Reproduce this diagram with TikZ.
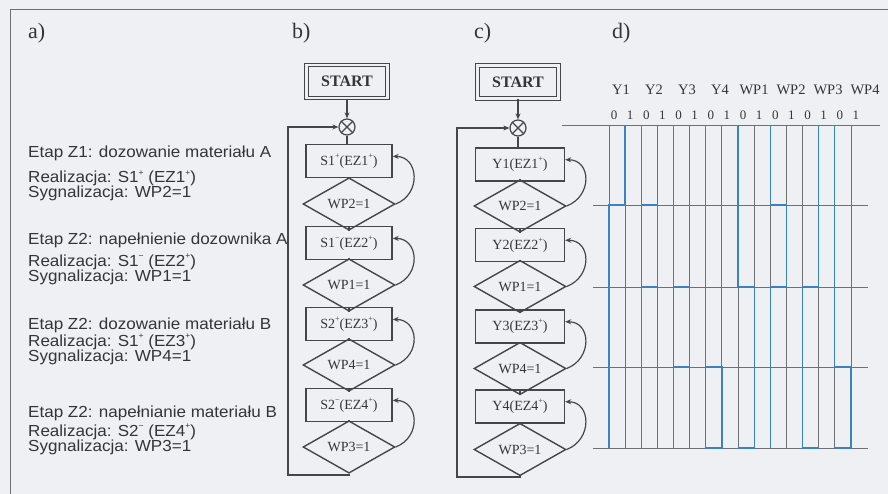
\documentclass[tikz,border=0pt]{standalone}
\usepackage{fontspec}
\setmainfont{Liberation Serif}
\setsansfont{Liberation Sans}
\newfontfamily\descfont[FakeStretch=1.065]{Liberation Sans}
\usetikzlibrary{shapes.geometric,arrows.meta}
\definecolor{paper}{HTML}{EEF0F3}
\definecolor{ink}{HTML}{45464C}
\definecolor{txt}{HTML}{34353A}
\definecolor{wave}{HTML}{3C82C0}
\definecolor{gridc}{HTML}{6E7076}
% small raised sign used in the step labels
\newcommand\upmark[1]{\raisebox{0.48em}{\fontsize{8}{8}\selectfont #1}}
\begin{document}
\begin{tikzpicture}[x=1pt,y=-1pt,
  every node/.style={text=txt},
  desc/.style={anchor=base west, inner sep=0, font=\descfont\fontsize{16}{16}\selectfont},
  panel/.style={anchor=base west, inner sep=0, font=\fontsize{22}{22}\selectfont},
  stepbox/.style={draw=ink, line width=1.4pt, minimum width=86pt, minimum height=33pt,
    inner sep=0, font=\fontsize{14}{14}\selectfont},
  cond/.style={diamond, draw=ink, line width=1.4pt, minimum width=92pt, minimum height=35pt,
    inner sep=0, font=\fontsize{14}{14}\selectfont},
  startbox/.style={draw=ink, double=paper, double distance=2.4pt, line width=1.1pt,
    minimum width=81pt, minimum height=33pt, inner sep=0, font=\bfseries\fontsize{16}{16}\selectfont},
  merge/.style={circle, draw=ink, line width=1.2pt, minimum size=16pt, inner sep=0},
  flow/.style={draw=ink, line width=1.2pt},
  tip/.style={-{Stealth[length=6pt,width=5pt]}},
  sig/.style={anchor=base, inner sep=0, font=\fontsize{14.5}{14.5}\selectfont},
  bit/.style={anchor=base, inner sep=0, font=\fontsize{13}{13}\selectfont},
  gridline/.style={draw=gridc, line width=0.9pt},
  waveline/.style={draw=wave, line width=1.3pt},
]
% page and frame
\fill[paper] (0,0) rectangle (888,494);
\useasboundingbox (0,0) rectangle (888,494);
\draw[draw=gridc, line width=1pt] (10,494) -- (10,10) -- (888,10);

% panel letters
\node[panel] (la) at (28,39) {a)};
\node[panel] (lb) at (292,39) {b)};
\node[panel] (lc) at (474,39) {c)};
\node[panel] (ld) at (612,39) {d)};

% a) description of the stages
\node[desc] (t1) at (28,158) {Etap Z1: dozowanie materiału A};
\node[desc] (t2) at (28,183) {Realizacja: S1\upmark{+} (EZ1\upmark{+})};
\node[desc] (t3) at (28,198) {Sygnalizacja: WP2=1};
\node[desc] (t4) at (28,245) {Etap Z2: napełnienie dozownika A};
\node[desc] (t5) at (28,266) {Realizacja: S1\upmark{−} (EZ2\upmark{+})};
\node[desc] (t6) at (28,281) {Sygnalizacja: WP1=1};
\node[desc] (t7) at (28,329) {Etap Z2: dozowanie materiału B};
\node[desc] (t8) at (28,346) {Realizacja: S1\upmark{+} (EZ3\upmark{+})};
\node[desc] (t9) at (28,361) {Sygnalizacja: WP4=1};
\node[desc] (t10) at (28,417) {Etap Z2: napełnianie materiału B};
\node[desc] (t11) at (28,436) {Realizacja: S2\upmark{−} (EZ4\upmark{+})};
\node[desc] (t12) at (28,451) {Sygnalizacja: WP3=1};

% b) flowchart with actuator names
\node[startbox] (sb) at (347,81.5) {START};
\node[merge] (mb) at (347,127) {};
\draw[flow] (mb.north west) -- (mb.south east) (mb.north east) -- (mb.south west);
\node[stepbox] (b1) at (349,161) {S1\upmark{+}(EZ1\upmark{+})};
\node[cond] (bd1) at (349,204) {WP2=1};
\node[stepbox] (b2) at (349,243) {S1\upmark{−}(EZ2\upmark{+})};
\node[cond] (bd2) at (349,285) {WP1=1};
\node[stepbox] (b3) at (349,324) {S2\upmark{+}(EZ3\upmark{+})};
\node[cond] (bd3) at (349,365) {WP4=1};
\node[stepbox] (b4) at (349,405) {S2\upmark{−}(EZ4\upmark{+})};
\node[cond] (bd4) at (349,447) {WP3=1};
\coordinate (bl1) at (288,475);
\coordinate (bl2) at (288,127);
\draw[flow,tip] (sb.south) -- (mb.north);
\draw[flow] (mb.south) -- (mb.south |- b1.north) (b1.south) -- (bd1.north) (bd1.south) -- (b2.north)
  (b2.south) -- (bd2.north) (bd2.south) -- (b3.north) (b3.south) -- (bd3.north)
  (bd3.south) -- (b4.north) (b4.south) -- (bd4.north);
\foreach \d/\b in {bd1/b1, bd2/b2, bd3/b3, bd4/b4}
  \draw[flow,tip] (\d.east) .. controls +(26,-10) and +(26,0) .. (\b.6);
\draw[flow,tip] (bd4.south) |- (bl1) -- (bl2) -- (mb.west);

% c) flowchart with valve outputs
\node[startbox] (sc) at (518,82) {START};
\node[merge] (mc) at (518,128) {};
\draw[flow] (mc.north west) -- (mc.south east) (mc.north east) -- (mc.south west);
\node[stepbox, minimum width=89pt] (c1) at (520,164.5) {Y1(EZ1\upmark{+})};
\node[cond] (cd1) at (520,206) {WP2=1};
\node[stepbox, minimum width=89pt] (c2) at (520,245) {Y2(EZ2\upmark{+})};
\node[cond] (cd2) at (520,286.5) {WP1=1};
\node[stepbox, minimum width=89pt] (c3) at (520,326.5) {Y3(EZ3\upmark{+})};
\node[cond] (cd3) at (520,368.5) {WP4=1};
\node[stepbox, minimum width=89pt] (c4) at (520,406.5) {Y4(EZ4\upmark{+})};
\node[cond] (cd4) at (520,449.5) {WP3=1};
\coordinate (cl1) at (457,477);
\coordinate (cl2) at (457,128);
\draw[flow,tip] (sc.south) -- (mc.north);
\draw[flow] (mc.south) -- (mc.south |- c1.north) (c1.south) -- (cd1.north) (cd1.south) -- (c2.north)
  (c2.south) -- (cd2.north) (cd2.south) -- (c3.north) (c3.south) -- (cd3.north)
  (cd3.south) -- (c4.north) (c4.south) -- (cd4.north);
\foreach \d/\b in {cd1/c1, cd2/c2, cd3/c3, cd4/c4}
  \draw[flow,tip] (\d.east) .. controls +(26,-10) and +(26,0) .. (\b.6);
\draw[flow,tip] (cd4.south) |- (cl1) -- (cl2) -- (mc.west);

% d) timing diagram: signal names, level digits, grid
\foreach \n/\cx [count=\k from 0] in {Y1/621,Y2/654,Y3/687,Y4/720,WP1/754,WP2/791,WP3/828,WP4/865}
  \node[sig] (s\k) at (\cx,95) {\n};
\foreach \k in {0,...,7} {
  \node[bit] (z\k) at ({614+32.26*\k},120) {0};
  \node[bit] (o\k) at ({630+32.26*\k},120) {1};
}
\draw[gridline] (562,125) -- (880,125);
\foreach \yy in {205,287,367,448}
  \draw[gridline] (593,\yy) -- (868,\yy);
\foreach \i in {0,...,15}
  \draw[gridline] ({609+16.13*\i},125) -- ({609+16.13*\i},448);
% signal levels per step row (0 = left column, 1 = right column), last = level after the cycle
\foreach \k/\a/\b/\c/\d/\e in {0/1/0/0/0/0, 1/0/1/0/0/0, 2/0/0/1/0/0, 3/0/0/0/1/0,
    4/0/0/1/1/0, 5/0/1/0/0/0, 6/1/1/0/0/1, 7/0/0/0/1/0} {
  \pgfmathsetmacro\L{609+32.26*\k}
  \draw[waveline, line join=miter]
    ({\L+16.13*\a},125) -- ({\L+16.13*\a},205) -- ({\L+16.13*\b},205)
    -- ({\L+16.13*\b},287) -- ({\L+16.13*\c},287)
    -- ({\L+16.13*\c},367) -- ({\L+16.13*\d},367)
    -- ({\L+16.13*\d},448) -- ({\L+16.13*\e},448);
}
\end{tikzpicture}
\end{document}
